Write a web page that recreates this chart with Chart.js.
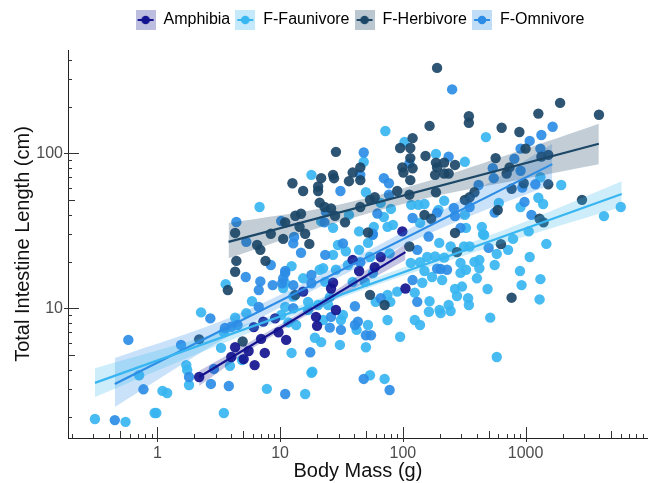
<!DOCTYPE html>
<html><head><meta charset="utf-8">
<script src="https://cdn.jsdelivr.net/npm/chart.js@4.4.1/dist/chart.umd.min.js"></script>
<style>html,body{margin:0;padding:0;background:#fff}</style>
</head><body>
<canvas id="c" width="653" height="483"></canvas>
<script>
// ---------- DATA ----------
const seriesNames = ['Amphibia', 'F-Faunivore', 'F-Herbivore', 'F-Omnivore'];
const xTickValues = [1, 10, 100, 1000];
const yTickValues = [10, 100];

const amphMass = [2.19,4.0,4.3,5.54,5.05,6.2,7.5,7.0,6.1,7.3,9.1,9.7,11.2,15.4,19.6,20,28.5,26,27,39,44,59,66,99,105];
const amphLen  = [3.6,4.85,5.6,5.3,4.7,4.3,5.15,6.35,7.55,8.2,8.6,7.0,6.25,12.8,8.8,7.7,9.75,13.4,14.6,20.5,17.4,18.4,21.4,31.3,13.4];

const faunMass = [103,186,320,1320,1950,117,134,150,605,1270,1390,910,217,195,320,4350,5960,138,327,440,450,1060,72,475,1476,48,18,50,6.8,36.4,66,80,70,75,83,27,21.6,44,58,3.6,10.6,5.9,2.27,4.3,5.3,3.48,3.3,1.72,1.75,3.9,4.9,1.81,0.71,1.1,1.2,0.95,0.98,3.48,7.8,0.31,0.55,16,18.3,12.4,11,15.4,21,27,29.6,34.3,44,52,54,78,198,116,138,158,183,217,173,209,150,144,125,165,199,163,125,138,90,75,79,60,75,95,52,50,42,31.3,30.7,32.5,24.6,20.4,16.9,12.8,11,10.2,11.7,13.5,23.3,39,49,57,35.7,28.5,22.4,16.9,25.4,22.4,19.2,21.6,12.4,18,54,71,460,790,350,315,245,582,720,560,420,383,295,327,295,420,401,1080,900,927,1320,1300,490,303,266,276,340,345,236,203,245,515,582];
const faunLen  = [118,99,88,70,62.4,46.4,46.4,47,47.8,51.6,47,45,49.3,43.1,40,39.3,45,35.6,33,33.5,30,31.3,139,127,26,88,72.5,56,45,40,47.8,43.7,38.8,33.5,34.5,33,36.3,31.3,33.5,14.3,13.5,11.1,9.4,8.7,9.3,7.0,5.55,4.3,4.0,4.25,4.64,3.2,3.7,2.93,2.84,2.11,2.11,2.11,3.02,1.93,1.85,2.8,3.9,18.7,14.5,15.6,17.7,22.1,25.6,23.3,23.8,26.4,21.4,22.6,26.4,19.6,19.8,21.4,21.6,21.2,15.9,15.2,17.4,14.6,12.6,11.1,9.75,9.5,8.4,7.8,12.8,12.2,11.0,11.0,8.4,6.55,7.8,5.6,7.25,8.4,5.8,9.05,10.5,10.5,11.0,11.9,10.2,9.05,8.1,7.8,14.8,14.8,14.8,16.8,19.0,17.7,18.1,9.75,11.8,8.4,6.45,6.05,5.15,3.83,3.7,3.5,29.7,28,25,25,25,22.4,23.8,19.0,20.5,19.9,19.6,17.7,16.9,18.1,15.6,21.4,17.4,14.1,15.4,11.4,13.3,13.8,13.3,12.0,11.6,10.5,10.5,9.3,9.6,8.7,4.85];

const herbMass = [190,1910,3960,1270,345,345,165,638,890,120,115,95,1000,153,570,1345,1530,115,186,217,266,190,120,99,101,740,701,183,217,236,115,965,1530,769,186,90,113,383,350,320,2880,593,150,170,1300,1400,266,28.5,45,39,21.6,27,27.5,36.4,45,12.6,15.4,20.4,20.4,21,23,26,28,33.8,45,54,59,11,13.3,14.8,14.4,8.4,16,52,10.6,4.3,6.5,6.9,4.4,7.6,4.3,3.75,2.19,4.95,17.3,113,54,71,13.3,276,630,769];
const herbLen  = [355,211,177,180,173,157,150,146,137,125,108,108,107,96,93,95,97.5,93,87,87,84,81,80,81,75,81,74,72.5,74,74,67,64,63,59,56,57,54,56,52,50,50,43,40,37.8,37.8,35.8,30.6,102,81,75,69,72.5,69,66,67,64,57,61,57,48,45,44,39.5,35.8,45,50,52,35.8,39.5,40.7,33.5,30.2,30.2,30.8,28,30.6,25.6,23.8,20.2,20.2,17.2,13.1,6.3,6.1,26,25,12.2,10.5,12.2,23,25.9,11.7];

const omniMass = [252,1660,1345,1080,910,1320,236,810,113,540,910,550,414,1200,940,980,560,350,260,190,120,266,1116,295,162,48,45,70,77,31,77,4.4,10.2,23.6,62,23,57,13,5.3,8.4,5.25,11,6.9,6.7,8.7,10.4,6.7,2.7,4.5,4.0,3.55,0.58,1.56,2.89,3.82,2.73,1.81,0.77,0.45,11,12.8,14.8,11,10.6,12.8,18,23.3,32.5,56.8,45,131,190,120,131,66,43,40.7,50,55,31.3,25.4,26,40.7,12.8,18,17.6,48,78,500,229,203];
const omniLen  = [258,148,131,120,107,107,95,92,86,80,77,69,62.4,63,60,48.5,41.4,45,44.3,41.4,38.2,39.3,40,33,29,101,72.5,69,64,57,54,36,36.5,41.8,40.8,35.8,30.2,28.8,26.8,19.0,15.9,16.9,14.9,13.1,14.1,14.5,10.2,8.6,7.8,7.6,7.45,6.25,5.8,4.06,3.15,3.25,3.6,3.0,1.9,2.8,26.2,22.8,17.4,15.6,14.1,16.4,22.1,26.2,29.7,19.8,23.8,18,15.2,11.0,11.6,8.2,7.8,6.7,6.7,7.25,7.5,8.8,10.3,10.0,14.5,5.2,3.5,2.97,24.5,17.7,17.9];

// fitted lines (start / end) and confidence bands
const amphFitMass = [2.19, 105],  amphFitLen = [3.6, 23];
const faunFitMass = [0.31, 6070], faunFitLen = [3.3, 54.6];
const herbFitMass = [3.8, 3950],  herbFitLen = [26.8, 115];
const omniFitMass = [0.45, 1650], omniFitLen = [3.25, 85];

const amphBandMass = [2.19, 5.54, 14.1, 39, 105];
const amphBandUp   = [3.94, 6.0, 9.2, 15.4, 26];
const amphBandLo   = [3.15, 5.3, 8.4, 13.2, 20.5];
const faunBandMass = [0.31, 5.5, 90, 845, 6070];
const faunBandUp   = [4.1, 8.0, 17.7, 34.4, 66];
const faunBandLo   = [2.68, 6.9, 15.7, 28.0, 45];
const herbBandMass = [3.8, 24.6, 158, 845, 3950];
const herbBandUp   = [35.5, 45, 66, 102, 155];
const herbBandLo   = [21, 34.4, 51.5, 67, 85];
const omniBandMass = [0.45, 3.82, 29.6, 229, 1650];
const omniBandUp   = [4.78, 8.66, 18.7, 44.4, 115];
const omniBandLo   = [2.31, 6.63, 15.7, 34.0, 63];

// ---------- STYLE ----------
const FONT = "'Liberation Sans', Arial, Helvetica, sans-serif";
const colAmph = '#13138f', colFaun = '#38b6f1', colHerb = '#1c4767', colOmni = '#2d8de6';
const bandAmph = 'rgba(19,19,143,0.25)', bandFaun = 'rgba(56,182,241,0.25)', bandHerb = 'rgba(28,71,103,0.27)', bandOmni = 'rgba(45,141,230,0.25)';
const alpha = (hex, a) => { const n = parseInt(hex.slice(1), 16); return `rgba(${n >> 16},${(n >> 8) & 255},${n & 255},${a})`; };

const pts = (xs, ys) => xs.map((v, i) => ({x: v, y: ys[i]}));

function pointSet(label, xs, ys, col, order) {
  return {type: 'scatter', label, data: pts(xs, ys), backgroundColor: alpha(col, 0.92), borderWidth: 0,
          pointRadius: 5.2, pointHoverRadius: 5.2, order};
}
function fitLine(xs, ys, col) {
  return {type: 'line', label: '_fit', data: pts(xs, ys), borderColor: col, borderWidth: 2.2, pointRadius: 0, fill: false, order: 0};
}
function bandLo(xs, ys) {
  return {type: 'line', label: '_lo', data: pts(xs, ys), borderWidth: 0, borderColor: 'rgba(0,0,0,0)', pointRadius: 0, fill: false, tension: 0.35, order: 1};
}
function bandUp(xs, ys, fillCol, target) {
  return {type: 'line', label: '_up', data: pts(xs, ys), borderWidth: 0, borderColor: 'rgba(0,0,0,0)', pointRadius: 0,
          fill: {target}, backgroundColor: fillCol, tension: 0.35, order: 1};
}

const datasets = [
  fitLine(amphFitMass, amphFitLen, colAmph),
  fitLine(faunFitMass, faunFitLen, colFaun),
  fitLine(herbFitMass, herbFitLen, colHerb),
  fitLine(omniFitMass, omniFitLen, colOmni),
  bandLo(amphBandMass, amphBandLo), bandUp(amphBandMass, amphBandUp, bandAmph, 4),
  bandLo(faunBandMass, faunBandLo), bandUp(faunBandMass, faunBandUp, bandFaun, 6),
  bandLo(herbBandMass, herbBandLo), bandUp(herbBandMass, herbBandUp, bandHerb, 8),
  bandLo(omniBandMass, omniBandLo), bandUp(omniBandMass, omniBandUp, bandOmni, 10),
  pointSet('F-Faunivore', faunMass, faunLen, colFaun, 5),
  pointSet('F-Omnivore', omniMass, omniLen, colOmni, 4),
  pointSet('F-Herbivore', herbMass, herbLen, colHerb, 3),
  pointSet('Amphibia', amphMass, amphLen, colAmph, 2)
];

function legendIcon(col, fill) {
  const c = document.createElement('canvas'); c.width = 20; c.height = 20;
  const g = c.getContext('2d');
  g.fillStyle = fill; g.fillRect(0, 0, 20, 20);
  g.strokeStyle = col; g.lineWidth = 2; g.beginPath(); g.moveTo(2, 10); g.lineTo(18, 10); g.stroke();
  g.fillStyle = col; g.beginPath(); g.arc(10, 10, 4.3, 0, Math.PI * 2); g.fill();
  return c;
}
const legendCols = [[colAmph, 'rgba(19,19,143,0.28)'], [colFaun, 'rgba(56,182,241,0.3)'], [colHerb, 'rgba(28,71,103,0.3)'], [colOmni, 'rgba(45,141,230,0.3)']];

const LEGEND_EXTRA = 12, LEGEND_SHIFT = 34;
const layoutFix = {
  id: 'layoutFix',
  beforeInit(chart) {
    const lg = chart.legend;
    const orig = lg.fit;
    lg.fit = function () { orig.call(this); this.height += LEGEND_EXTRA; };
  },
  afterLayout(chart) { chart.legend.left += LEGEND_SHIFT; chart.legend.right += LEGEND_SHIFT; }
};

const logTicks = {
  id: 'logTicks',
  afterDraw(chart) {
    const {ctx, chartArea: a} = chart; const xs = chart.scales.x, ys = chart.scales.y;
    ctx.save(); ctx.strokeStyle = '#333'; ctx.lineWidth = 1; ctx.beginPath();
    for (let e = -2; e <= 5; e++) for (let m = 1; m <= 9; m++) {
      const v = m * Math.pow(10, e);
      const len = m === 1 ? 11 : (m === 5 ? 7 : 4);
      if (v >= xs.min && v <= xs.max) {
        const p = Math.round(xs.getPixelForValue(v)) + 0.5;
        ctx.moveTo(p, a.bottom + (m === 1 ? 4 : 0)); ctx.lineTo(p, a.bottom - len);
      }
      if (v >= ys.min && v <= ys.max) {
        const p = Math.round(ys.getPixelForValue(v)) + 0.5;
        ctx.moveTo(a.left - (m === 1 ? 4 : 0), p); ctx.lineTo(a.left + len, p);
      }
    }
    ctx.stroke(); ctx.restore();
  }
};

new Chart(document.getElementById('c'), {
  type: 'scatter',
  data: {datasets},
  options: {
    responsive: false, animation: false, devicePixelRatio: 1,
    layout: {padding: {left: 0, right: 1, top: 7, bottom: 0}},
    plugins: {
      tooltip: {enabled: false},
      legend: {
        position: 'top', align: 'center',
        labels: {
          usePointStyle: true, pointStyleWidth: 20, boxHeight: 20, padding: 5,
          color: '#1a1a1a', font: {family: FONT, size: 16},
          generateLabels: () => seriesNames.map((n, i) => ({
            text: n, pointStyle: legendIcon(legendCols[i][0], legendCols[i][1]),
            fillStyle: legendCols[i][1], strokeStyle: legendCols[i][0], lineWidth: 0, hidden: false, datasetIndex: 12 + i
          }))
        }
      }
    },
    scales: {
      x: {
        type: 'logarithmic', position: 'bottom', min: 0.187, max: 9900,
        afterFit: s => { s.height = 483 - 438; },
        afterBuildTicks: s => { s.ticks = xTickValues.map(v => ({value: v})); },
        grid: {display: false, drawTicks: false},
        border: {display: true, color: '#222', width: 1},
        ticks: {autoSkip: false, maxRotation: 0, padding: 6, color: '#4d4d4d', font: {family: FONT, size: 16}, callback: v => String(v)},
        title: {display: true, text: 'Body Mass (g)', color: '#111', font: {family: FONT, size: 20}, padding: {top: 0, bottom: 0}}
      },
      y: {
        type: 'logarithmic', position: 'left', min: 1.456, max: 463,
        afterFit: s => { s.width = 68; },
        afterBuildTicks: s => { s.ticks = yTickValues.map(v => ({value: v})); },
        grid: {display: false, drawTicks: false},
        border: {display: true, color: '#222', width: 1},
        ticks: {autoSkip: false, padding: 5, color: '#4d4d4d', font: {family: FONT, size: 16}, callback: v => String(v)},
        title: {display: true, text: 'Total Intestine Length (cm)', color: '#111', font: {family: FONT, size: 20}, padding: {top: 11, bottom: 0}}
      }
    }
  },
  plugins: [layoutFix, logTicks]
});
</script>
</body></html>
